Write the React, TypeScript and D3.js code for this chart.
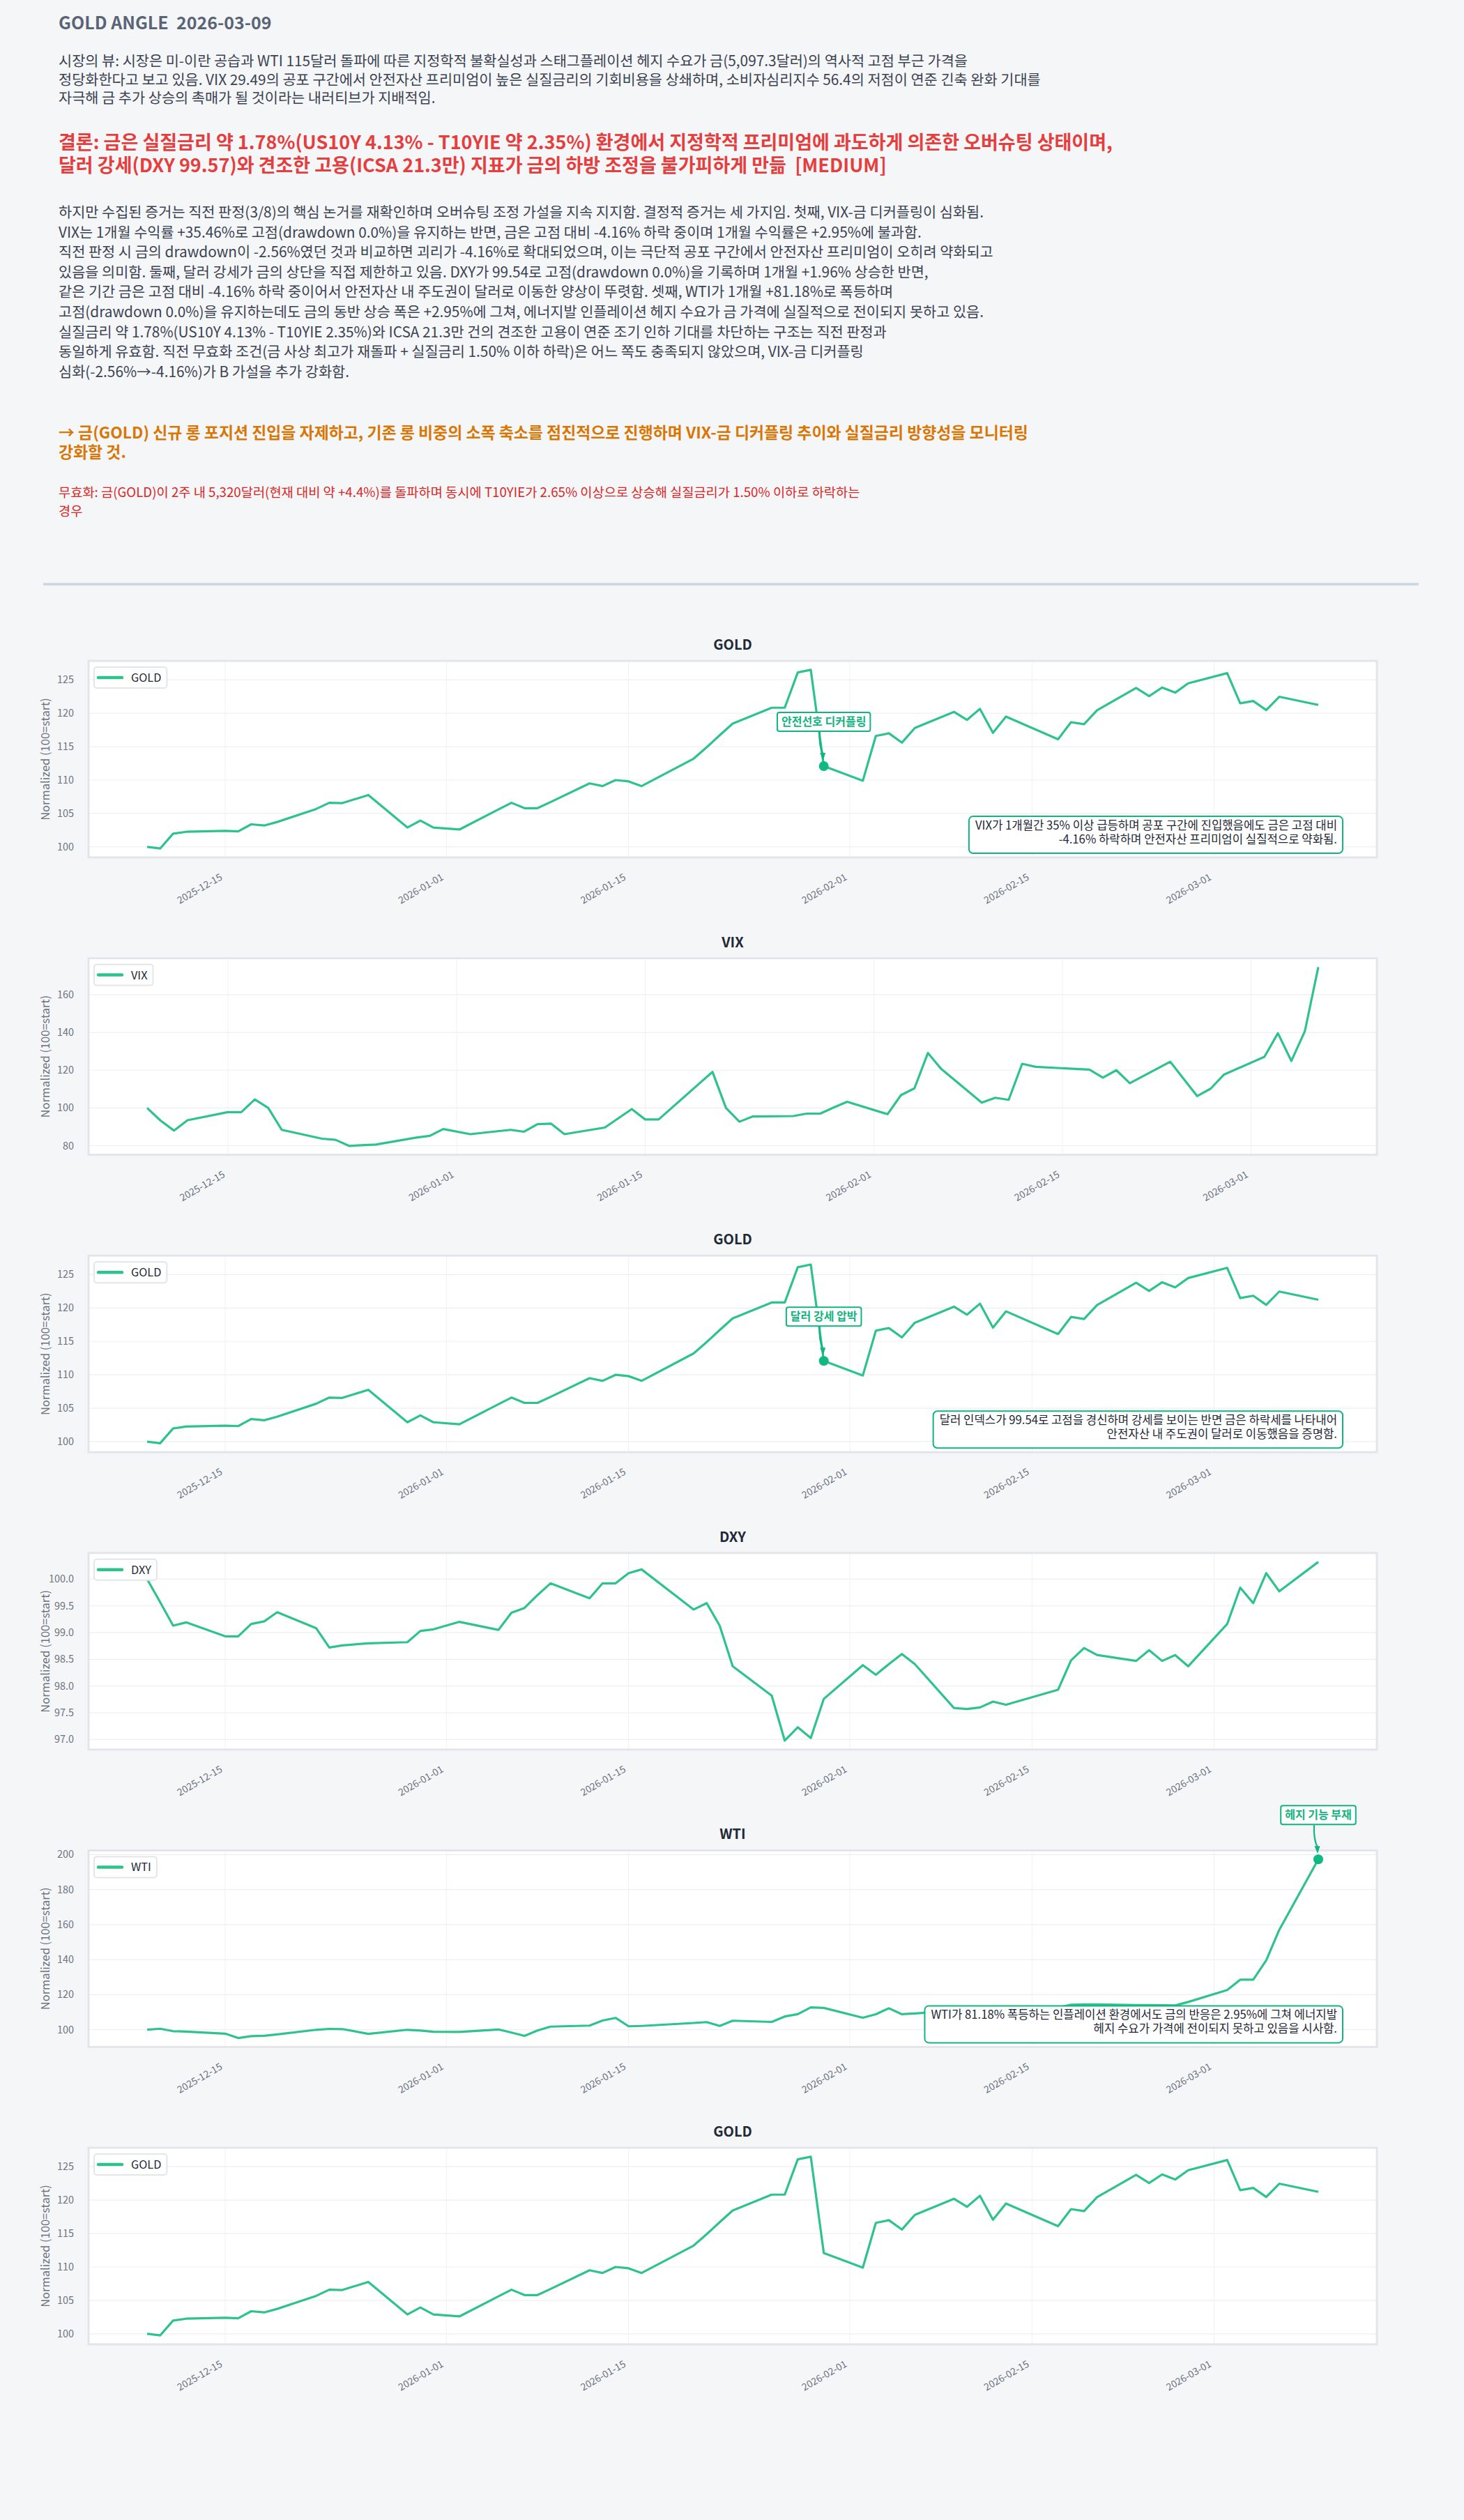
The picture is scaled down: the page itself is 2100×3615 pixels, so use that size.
import { useEffect, useRef } from 'react';
import * as d3 from 'd3';

// NYSE trading days shown in the panels
const TRADING_DAYS = [
  '2025-12-09', '2025-12-10', '2025-12-11', '2025-12-12', '2025-12-15', '2025-12-16', '2025-12-17',
  '2025-12-18', '2025-12-19', '2025-12-22', '2025-12-23', '2025-12-24', '2025-12-26', '2025-12-29',
  '2025-12-30', '2025-12-31', '2026-01-02', '2026-01-05', '2026-01-06', '2026-01-07', '2026-01-08',
  '2026-01-09', '2026-01-12', '2026-01-13', '2026-01-14', '2026-01-15', '2026-01-16', '2026-01-20',
  '2026-01-21', '2026-01-22', '2026-01-23', '2026-01-26', '2026-01-27', '2026-01-28', '2026-01-29',
  '2026-01-30', '2026-02-02', '2026-02-03', '2026-02-04', '2026-02-05', '2026-02-06', '2026-02-09',
  '2026-02-10', '2026-02-11', '2026-02-12', '2026-02-13', '2026-02-17', '2026-02-18', '2026-02-19',
  '2026-02-20', '2026-02-23', '2026-02-24', '2026-02-25', '2026-02-26', '2026-02-27', '2026-03-02',
  '2026-03-03', '2026-03-04', '2026-03-05', '2026-03-06', '2026-03-09',
];
// VIX has no print for the last day yet
const VIX_DAYS = TRADING_DAYS.slice(0, 60);

const GOLD_VALUES = [
  100.0, 99.76, 101.98, 102.26, 102.4, 102.33, 103.38, 103.2, 103.73, 105.68, 106.6, 106.55, 107.76,
  102.9, 103.93, 102.9, 102.6, 105.6, 106.6, 105.8, 105.8, 106.7, 109.5, 109.1, 110.0, 109.8, 109.1,
  113.2, 114.9, 116.7, 118.45, 120.82, 120.82, 126.1, 126.5, 112.08, 109.9, 116.6, 117.0, 115.6,
  117.8, 120.2, 119.0, 120.65, 117.06, 119.5, 116.1, 118.66, 118.35, 120.44, 123.78, 122.56, 123.85,
  123.08, 124.48, 126.0, 121.48, 121.83, 120.47, 122.46, 121.24,
];

const VIX_VALUES = [
  100.0, 93.3, 88.0, 93.5, 97.8, 97.8, 104.5, 100.0, 88.4, 83.7, 83.1, 79.9, 80.6, 84.3, 85.2, 88.8,
  86.1, 88.4, 87.4, 91.4, 91.7, 86.1, 89.6, 94.5, 99.4, 93.9, 93.9, 119.1, 100.0, 92.7, 95.5, 95.7,
  97.0, 97.0, 100.2, 103.3, 96.7, 106.8, 110.4, 129.1, 120.6, 102.8, 105.4, 104.3, 123.4, 121.8,
  120.3, 116.1, 120.0, 113.1, 124.5, 115.4, 106.3, 110.2, 117.7, 127.1, 139.6, 124.9, 140.6, 174.6,
];

const DXY_VALUES = [
  100.0, 99.57, 99.13, 99.19, 98.93, 98.93, 99.16, 99.21, 99.38, 99.08, 98.72, 98.76, 98.8, 98.82,
  99.03, 99.06, 99.2, 99.05, 99.37, 99.46, 99.7, 99.92, 99.64, 99.92, 99.92, 100.11, 100.18, 99.43,
  99.55, 99.13, 98.37, 97.82, 96.98, 97.23, 97.03, 97.76, 98.39, 98.21, 98.41, 98.6, 98.41, 97.59,
  97.57, 97.6, 97.71, 97.65, 97.93, 98.48, 98.71, 98.58, 98.47, 98.67, 98.47, 98.58, 98.37, 99.16,
  99.84, 99.55, 100.11, 99.77, 100.32,
];

const WTI_VALUES = [
  100.0, 100.5, 99.1, 98.9, 97.7, 95.2, 96.3, 96.5, 97.3, 99.9, 100.4, 100.3, 97.6, 99.9, 99.5, 98.8,
  98.7, 100.1, 98.3, 96.4, 99.5, 101.7, 102.3, 105.2, 106.7, 101.9, 102.1, 103.8, 104.3, 102.1, 105.1,
  104.4, 107.5, 108.8, 112.7, 112.4, 106.8, 108.8, 112.2, 108.8, 109.2, 110.8, 111.0, 111.6, 110.5,
  110.8, 112.5, 114.2, 114.4, 114.4, 114.0, 114.0, 113.9, 113.8, 115.8, 122.6, 128.5, 128.5, 139.6,
  157.0, 197.3,
];

const DATE_TICKS = ['2025-12-15', '2026-01-01', '2026-01-15', '2026-02-01', '2026-02-15', '2026-03-01'];
const GOLD_TICKS = [100, 105, 110, 115, 120, 125];
const VIX_TICKS = [80, 100, 120, 140, 160];
const DXY_TICKS = [97.0, 97.5, 98.0, 98.5, 99.0, 99.5, 100.0];
const WTI_TICKS = [100, 120, 140, 160, 180, 200];

const TITLE = 'GOLD ANGLE  2026-03-09';
const VIEW_LINES = [
  '시장의 뷰: 시장은 미-이란 공습과 WTI 115달러 돌파에 따른 지정학적 불확실성과 스태그플레이션 헤지 수요가 금(5,097.3달러)의 역사적 고점 부근 가격을',
  '정당화한다고 보고 있음. VIX 29.49의 공포 구간에서 안전자산 프리미엄이 높은 실질금리의 기회비용을 상쇄하며, 소비자심리지수 56.4의 저점이 연준 긴축 완화 기대를',
  '자극해 금 추가 상승의 촉매가 될 것이라는 내러티브가 지배적임.',
];
const CONCLUSION_LINES = [
  '결론: 금은 실질금리 약 1.78%(US10Y 4.13% - T10YIE 약 2.35%) 환경에서 지정학적 프리미엄에 과도하게 의존한 오버슈팅 상태이며,',
  '달러 강세(DXY 99.57)와 견조한 고용(ICSA 21.3만) 지표가 금의 하방 조정을 불가피하게 만듦  [MEDIUM]',
];
const EVIDENCE_LINES = [
  '하지만 수집된 증거는 직전 판정(3/8)의 핵심 논거를 재확인하며 오버슈팅 조정 가설을 지속 지지함. 결정적 증거는 세 가지임. 첫째, VIX-금 디커플링이 심화됨.',
  'VIX는 1개월 수익률 +35.46%로 고점(drawdown 0.0%)을 유지하는 반면, 금은 고점 대비 -4.16% 하락 중이며 1개월 수익률은 +2.95%에 불과함.',
  '직전 판정 시 금의 drawdown이 -2.56%였던 것과 비교하면 괴리가 -4.16%로 확대되었으며, 이는 극단적 공포 구간에서 안전자산 프리미엄이 오히려 약화되고',
  '있음을 의미함. 둘째, 달러 강세가 금의 상단을 직접 제한하고 있음. DXY가 99.54로 고점(drawdown 0.0%)을 기록하며 1개월 +1.96% 상승한 반면,',
  '같은 기간 금은 고점 대비 -4.16% 하락 중이어서 안전자산 내 주도권이 달러로 이동한 양상이 뚜렷함. 셋째, WTI가 1개월 +81.18%로 폭등하며',
  '고점(drawdown 0.0%)을 유지하는데도 금의 동반 상승 폭은 +2.95%에 그쳐, 에너지발 인플레이션 헤지 수요가 금 가격에 실질적으로 전이되지 못하고 있음.',
  '실질금리 약 1.78%(US10Y 4.13% - T10YIE 2.35%)와 ICSA 21.3만 건의 견조한 고용이 연준 조기 인하 기대를 차단하는 구조는 직전 판정과',
  '동일하게 유효함. 직전 무효화 조건(금 사상 최고가 재돌파 + 실질금리 1.50% 이하 하락)은 어느 쪽도 충족되지 않았으며, VIX-금 디커플링',
  '심화(-2.56%→-4.16%)가 B 가설을 추가 강화함.',
];
const ACTION_LINES = [
  '→ 금(GOLD) 신규 롱 포지션 진입을 자제하고, 기존 롱 비중의 소폭 축소를 점진적으로 진행하며 VIX-금 디커플링 추이와 실질금리 방향성을 모니터링',
  '강화할 것.',
];
const INVALID_LINES = [
  '무효화: 금(GOLD)이 2주 내 5,320달러(현재 대비 약 +4.4%)를 돌파하며 동시에 T10YIE가 2.65% 이상으로 상승해 실질금리가 1.50% 이하로 하락하는',
  '경우',
];

const GOLD_VIX_NOTE = [
  'VIX가 1개월간 35% 이상 급등하며 공포 구간에 진입했음에도 금은 고점 대비',
  '-4.16% 하락하며 안전자산 프리미엄이 실질적으로 약화됨.',
];
const GOLD_DXY_NOTE = [
  '달러 인덱스가 99.54로 고점을 경신하며 강세를 보이는 반면 금은 하락세를 나타내어',
  '안전자산 내 주도권이 달러로 이동했음을 증명함.',
];
const WTI_NOTE = [
  'WTI가 81.18% 폭등하는 인플레이션 환경에서도 금의 반응은 2.95%에 그쳐 에너지발',
  '헤지 수요가 가격에 전이되지 못하고 있음을 시사함.',
];

interface Panel {
  name: string
  days: string[]
  values: number[]
  ticks: number[]
  fmt: string
  callout?: { day: string, text: string }
  note?: string[]
}

const PANELS: Panel[] = [
  { name: 'GOLD', days: TRADING_DAYS, values: GOLD_VALUES, ticks: GOLD_TICKS, fmt: 'd',
    callout: { day: '2026-01-30', text: '안전선호 디커플링' }, note: GOLD_VIX_NOTE },
  { name: 'VIX', days: VIX_DAYS, values: VIX_VALUES, ticks: VIX_TICKS, fmt: 'd' },
  { name: 'GOLD', days: TRADING_DAYS, values: GOLD_VALUES, ticks: GOLD_TICKS, fmt: 'd',
    callout: { day: '2026-01-30', text: '달러 강세 압박' }, note: GOLD_DXY_NOTE },
  { name: 'DXY', days: TRADING_DAYS, values: DXY_VALUES, ticks: DXY_TICKS, fmt: '.1f' },
  { name: 'WTI', days: TRADING_DAYS, values: WTI_VALUES, ticks: WTI_TICKS, fmt: 'd',
    callout: { day: '2026-03-09', text: '헤지 기능 부재' }, note: WTI_NOTE },
  { name: 'GOLD', days: TRADING_DAYS, values: GOLD_VALUES, ticks: GOLD_TICKS, fmt: 'd' },
];

const FONT = '"Noto Sans CJK KR", "Noto Sans", sans-serif';
const LINE = '#2ec28c';
const ACCENT = '#12b47f';
const PLOT_L = 127;
const PLOT_R = 1975;
const PLOT_H = 282;
const FIRST_TOP = 948;
const PANEL_STEP = 426.6;

const parseDay = d3.timeParse('%Y-%m-%d');

type Sel = d3.Selection<SVGSVGElement, unknown, null, undefined>;

const textBlock = (svg: Sel, lines: string[], y0: number, lh: number, size: number,
  weight: number, color: string): void => {
  const t = svg.append('text')
    .attr('font-family', FONT)
    .attr('font-size', size)
    .attr('font-weight', weight)
    .attr('fill', color)
    .style('white-space', 'pre');
  lines.forEach((l, i) => {
    t.append('tspan').attr('x', 84).attr('y', y0 + i * lh).text(l);
  });
};

const drawPanel = (svg: Sel, p: Panel, top: number): void => {
  const bottom = top + PLOT_H;
  const dates = p.days.map(d => parseDay(d) as Date);
  const t0 = +dates[0];
  const t1 = +dates[dates.length - 1];
  const xPad = (t1 - t0) * 0.05;
  const x = d3.scaleTime().domain([new Date(t0 - xPad), new Date(t1 + xPad)]).range([PLOT_L, PLOT_R]);
  const [v0, v1] = d3.extent(p.values) as [number, number];
  const yPad = (v1 - v0) * 0.05;
  const y = d3.scaleLinear().domain([v0 - yPad, v1 + yPad]).range([bottom, top]);
  const fmt = d3.format(p.fmt);

  const g = svg.append('g').attr('font-family', FONT);

  g.append('text')
    .attr('x', (PLOT_L + PLOT_R) / 2)
    .attr('y', top - 16)
    .attr('text-anchor', 'middle')
    .attr('font-size', 20)
    .attr('font-weight', 700)
    .attr('fill', '#1f2937')
    .text(p.name);

  g.append('rect')
    .attr('x', PLOT_L).attr('y', top)
    .attr('width', PLOT_R - PLOT_L).attr('height', PLOT_H)
    .attr('fill', '#ffffff');

  const xTicks = DATE_TICKS.map(d => parseDay(d) as Date);
  g.selectAll('line.gx').data(xTicks).enter().append('line')
    .attr('x1', d => x(d)).attr('x2', d => x(d))
    .attr('y1', top).attr('y2', bottom)
    .attr('stroke', '#f0f1f3').attr('stroke-width', 1);
  g.selectAll('line.gy').data(p.ticks).enter().append('line')
    .attr('x1', PLOT_L).attr('x2', PLOT_R)
    .attr('y1', d => y(d)).attr('y2', d => y(d))
    .attr('stroke', '#eeeff2').attr('stroke-width', 1.2);

  g.append('rect')
    .attr('x', PLOT_L).attr('y', top)
    .attr('width', PLOT_R - PLOT_L).attr('height', PLOT_H)
    .attr('fill', 'none').attr('stroke', '#e3e5ea').attr('stroke-width', 3);

  g.selectAll('text.yt').data(p.ticks).enter().append('text')
    .attr('x', 106).attr('y', d => y(d) + 5)
    .attr('text-anchor', 'end')
    .attr('font-size', 14.4)
    .attr('fill', '#6b7280')
    .text(d => fmt(d));

  g.selectAll('text.xt').data(xTicks).enter().append('text')
    .attr('transform', d => `translate(${x(d) - 3},${bottom + 31}) rotate(-30)`)
    .attr('text-anchor', 'end')
    .attr('font-size', 14)
    .attr('fill', '#6b7280')
    .text(d => d3.timeFormat('%Y-%m-%d')(d));

  g.append('text')
    .attr('transform', `translate(71,${(top + bottom) / 2}) rotate(-90)`)
    .attr('text-anchor', 'middle')
    .attr('font-size', 16.5)
    .attr('fill', '#6b7280')
    .text('Normalized (100=start)');

  const line = d3.line<number>()
    .x((_d, i) => x(dates[i]))
    .y(d => y(d));
  g.append('path')
    .attr('d', line(p.values))
    .attr('fill', 'none')
    .attr('stroke', LINE)
    .attr('stroke-width', 3.2)
    .attr('stroke-linejoin', 'round');

  if (p.note) {
    const size = 16.7;
    const lh = 20;
    const right = PLOT_R - 57;
    const boxBottom = bottom - 6;
    const firstBase = boxBottom - 14 - lh * (p.note.length - 1);
    const nt = g.append('text')
      .attr('font-size', size)
      .attr('fill', '#1f2937')
      .attr('text-anchor', 'end');
    let maxW = 0;
    p.note.forEach((l, i) => {
      const ts = nt.append('tspan').attr('x', right).attr('y', firstBase + i * lh).text(l);
      maxW = Math.max(maxW, (ts.node() as SVGTSpanElement).getComputedTextLength());
    });
    const boxTop = firstBase - 19;
    g.insert('rect', () => nt.node())
      .attr('x', right - maxW - 9).attr('y', boxTop)
      .attr('width', maxW + 17).attr('height', boxBottom - boxTop)
      .attr('rx', 6)
      .attr('fill', '#ffffff').attr('fill-opacity', 0.94)
      .attr('stroke', ACCENT).attr('stroke-width', 2);
  }

  if (p.callout) {
    const i = p.days.indexOf(p.callout.day);
    const mx = x(dates[i]);
    const my = y(p.values[i]);
    const r = 7;
    const boxBottom = my - 50;
    const lt = g.append('text')
      .attr('x', mx).attr('y', boxBottom - 8)
      .attr('text-anchor', 'middle')
      .attr('font-size', 16)
      .attr('font-weight', 700)
      .attr('fill', ACCENT)
      .text(p.callout.text);
    const w = (lt.node() as SVGTextElement).getComputedTextLength();
    g.insert('rect', () => lt.node())
      .attr('x', mx - w / 2 - 6).attr('y', boxBottom - 27)
      .attr('width', w + 12).attr('height', 27)
      .attr('rx', 3)
      .attr('fill', '#ffffff')
      .attr('stroke', ACCENT).attr('stroke-width', 2);
    const sx = mx - 6;
    const sy = boxBottom + 1;
    const ex = mx - 1;
    const ey = my - r - 1;
    g.append('path')
      .attr('d', `M${sx},${sy} Q${sx - 1},${(sy + ey) / 2} ${ex},${ey - 9}`)
      .attr('fill', 'none').attr('stroke', ACCENT).attr('stroke-width', 2.2);
    g.append('path')
      .attr('d', `M${ex - 4.5},${ey - 11} L${ex + 3.5},${ey - 11} L${ex},${ey} Z`)
      .attr('fill', ACCENT);
    g.append('circle')
      .attr('cx', mx).attr('cy', my).attr('r', r)
      .attr('fill', '#10b981');
  }

  // legend
  const lg = g.append('g');
  const lx = PLOT_L + 8;
  const ly = top + 9;
  const ltxt = lg.append('text')
    .attr('x', lx + 53).attr('y', ly + 21)
    .attr('font-size', 16.3)
    .attr('fill', '#1f2937')
    .text(p.name);
  const lw = (ltxt.node() as SVGTextElement).getComputedTextLength();
  lg.insert('rect', () => ltxt.node())
    .attr('x', lx).attr('y', ly)
    .attr('width', 53 + lw + 8).attr('height', 30)
    .attr('rx', 4)
    .attr('fill', '#ffffff')
    .attr('stroke', '#e3e5ea').attr('stroke-width', 2);
  lg.append('line')
    .attr('x1', lx + 6).attr('x2', lx + 40)
    .attr('y1', ly + 15).attr('y2', ly + 15)
    .attr('stroke', LINE).attr('stroke-width', 4.5)
    .attr('stroke-linecap', 'round');
};

const App = (): JSX.Element => {
  const svgRef = useRef<SVGSVGElement>(null);

  useEffect(() => {
    const svg = d3.select(svgRef.current as SVGSVGElement);

    textBlock(svg, [TITLE], 42, 0, 25, 700, '#5b6477');
    textBlock(svg, VIEW_LINES, 95, 26.5, 20.8, 400, '#3b4252');
    textBlock(svg, CONCLUSION_LINES, 214, 33, 27, 700, '#e53e3e');
    textBlock(svg, EVIDENCE_LINES, 312, 28.6, 20.8, 400, '#3b4252');
    textBlock(svg, ACTION_LINES, 629, 28, 22.9, 700, '#d97706');
    textBlock(svg, INVALID_LINES, 713, 27, 18.7, 400, '#dc2626');

    svg.append('line')
      .attr('x1', 62).attr('x2', 2035)
      .attr('y1', 838).attr('y2', 838)
      .attr('stroke', '#cdd5e1').attr('stroke-width', 3.5);

    PANELS.forEach((p, i) => drawPanel(svg, p, FIRST_TOP + i * PANEL_STEP));

    return () => {
      svg.selectAll('*').remove();
    };
  }, []);

  return (
    <svg
      ref={svgRef}
      width={2100}
      height={3615}
      style={{ position: 'absolute', left: 0, top: 0, background: '#f5f6f8' }}
    />
  );
};

export default App;
